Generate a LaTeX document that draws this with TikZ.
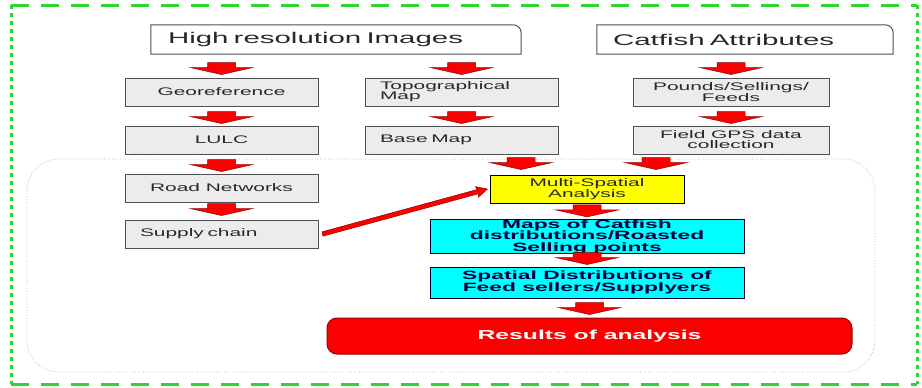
\documentclass[tikz,border=0pt]{standalone}
\usepackage{fontspec}
\setmainfont[FakeStretch=1.9]{Liberation Sans}
\usetikzlibrary{calc}
\definecolor{fgreen}{RGB}{45,215,45}
\definecolor{boxgray}{RGB}{236,236,236}
\definecolor{edgegray}{RGB}{80,80,80}
\definecolor{textgray}{RGB}{40,40,40}
\definecolor{arrowred}{RGB}{250,0,0}
\definecolor{arrowedge}{RGB}{150,0,0}
\definecolor{navy}{RGB}{0,0,60}
\definecolor{aqua}{RGB}{0,255,255}
\definecolor{yel}{RGB}{255,255,0}
\definecolor{pinkdot}{RGB}{215,150,150}
\tikzset{
  gbox/.style={draw=edgegray, fill=boxgray, line width=1pt, minimum width=193pt, minimum height=28pt, inner sep=0pt, align=center, text=textgray, font=\fontsize{11}{10}\selectfont},
  gboxl/.style={gbox, text width=163pt, inner xsep=15pt, align=left},
  cbox/.style={draw=navy, fill=aqua, line width=1pt, minimum width=314pt, minimum height=31pt, inner sep=0pt, align=center, text=navy, font=\fontsize{12}{11.5}\selectfont\bfseries},
  tbox/.style={minimum height=29pt, inner ysep=0pt, align=left, text=textgray, font=\fontsize{15.5}{18}\selectfont},
  barrow/.pic={\filldraw[fill=arrowred, draw=arrowedge, line width=0.5pt]
     (-14,-6) -- (14,-6) -- (14,-1) -- (31.5,-1) -- (0,6) -- (-31.5,-1) -- (-14,-1) -- cycle;}
}
\begin{document}
\begin{tikzpicture}[x=1pt, y=-1pt]
\useasboundingbox (0,0) rectangle (922,388);
% outer green frame
\draw[fgreen, line width=3pt, dash pattern=on 18pt off 12pt] (11,5) -- (917,5);
\draw[fgreen, line width=3pt, dash pattern=on 18pt off 12pt] (11,384) -- (917,384);
\draw[fgreen, line width=3pt, dash pattern=on 4pt off 4pt] (11,5) -- (11,384);
\draw[fgreen, line width=3pt, dash pattern=on 4pt off 4pt] (917,5) -- (917,384);
% dotted region
\draw[pinkdot, line width=0.7pt, dotted, rounded corners=32pt] (27,159) rectangle (875,372);

% title boxes
\node[tbox, text width=336pt, inner xsep=17pt] (hi) at (336,39.5) {High resolution Images};
\node[tbox, text width=264pt, inner xsep=16pt] (cat) at (745,39.5) {Catfish Attributes};
\foreach \n in {hi,cat}{
  \draw[edgegray, line width=1pt] (\n.south west) |- ([xshift=-8pt]\n.north east)
     to[out=0,in=90] ([yshift=-8pt]\n.north east) -- (\n.south east) -- cycle;
}

% column 1
\node[gbox] (geo) at (221.5,92) {Georeference};
\node[gbox] (lulc) at (221.5,140) {LULC};
\node[gbox] (road) at (221.5,188) {Road Networks};
\node[gboxl] (supply) at (221.5,234) {Supply chain};
% column 2
\node[gboxl] (topo) at (461.5,92) {Topographical\\Map};
\node[gboxl] (base) at (461.5,140) {Base Map};
% column 3
\node[gbox, minimum width=196pt] (pounds) at (731,92) {Pounds/Sellings/\\Feeds};
\node[gbox, minimum width=196pt] (field) at (731,140) {Field GPS data\\collection};

% analysis
\node[draw=black, fill=yel, line width=1pt, minimum width=194pt, minimum height=28pt, inner sep=0pt, align=center, text=textgray, font=\fontsize{11}{10}\selectfont] (ms) at (587,189) {Multi-Spatial\\Analysis};
\node[cbox] (maps) at (587,236.5) {Maps of Catfish\\distributions/Roasted\\Selling points};
\node[cbox] (spatial) at (587,282.5) {Spatial Distributions of\\Feed sellers/Supplyers};
\node[draw=arrowedge, fill=arrowred, line width=1pt, rounded corners=10pt, minimum width=525pt, minimum height=36pt, inner sep=0pt, text=white, font=\fontsize{13}{15}\selectfont\bfseries] (res) at (589.5,336) {Results of analysis};

% block arrows
\pic at ($(geo.north)+(0,-9)$) {barrow};
\pic at ($(topo.north)+(0,-9)$) {barrow};
\pic at ($(pounds.north)+(0,-9)$) {barrow};
\pic at ($(lulc.north)+(0,-8)$) {barrow};
\pic at ($(base.north)+(0,-8)$) {barrow};
\pic at ($(field.north)+(0,-8)$) {barrow};
\pic at ($(road.north)+(0,-8)$) {barrow};
\pic at ($(supply.north)+(0,-10)$) {barrow};
\pic at ($(ms.north)+(-66,-11)$) {barrow};
\pic at ($(ms.north)+(69,-11)$) {barrow};
\pic at ($(maps.north)+(0,-8)$) {barrow};
\pic at ($(spatial.north)+(0,-8)$) {barrow};
\pic at ($(res.north)+(0,-9)$) {barrow};

% long arrow supply chain -> multi-spatial
\path let \p1=($(ms.west)+(-2pt,0)$), \p2=($(supply.east)+(4pt,0)$),
          \p3=($(\p1)-(\p2)$), \n1={atan2(\y3,\x3)}, \n2={veclen(\x3,\y3)} in
  [shift={(\p2)}, rotate=\n1]
  [fill=arrowred, draw=arrowedge, line width=0.5pt]
  (0pt,-2.2pt) -- (\n2-10pt,-2.2pt) -- (\n2-11pt,-5.5pt) -- (\n2,0pt) -- (\n2-11pt,5.5pt) -- (\n2-10pt,2.2pt) -- (0pt,2.2pt) -- cycle;
\end{tikzpicture}
\end{document}
